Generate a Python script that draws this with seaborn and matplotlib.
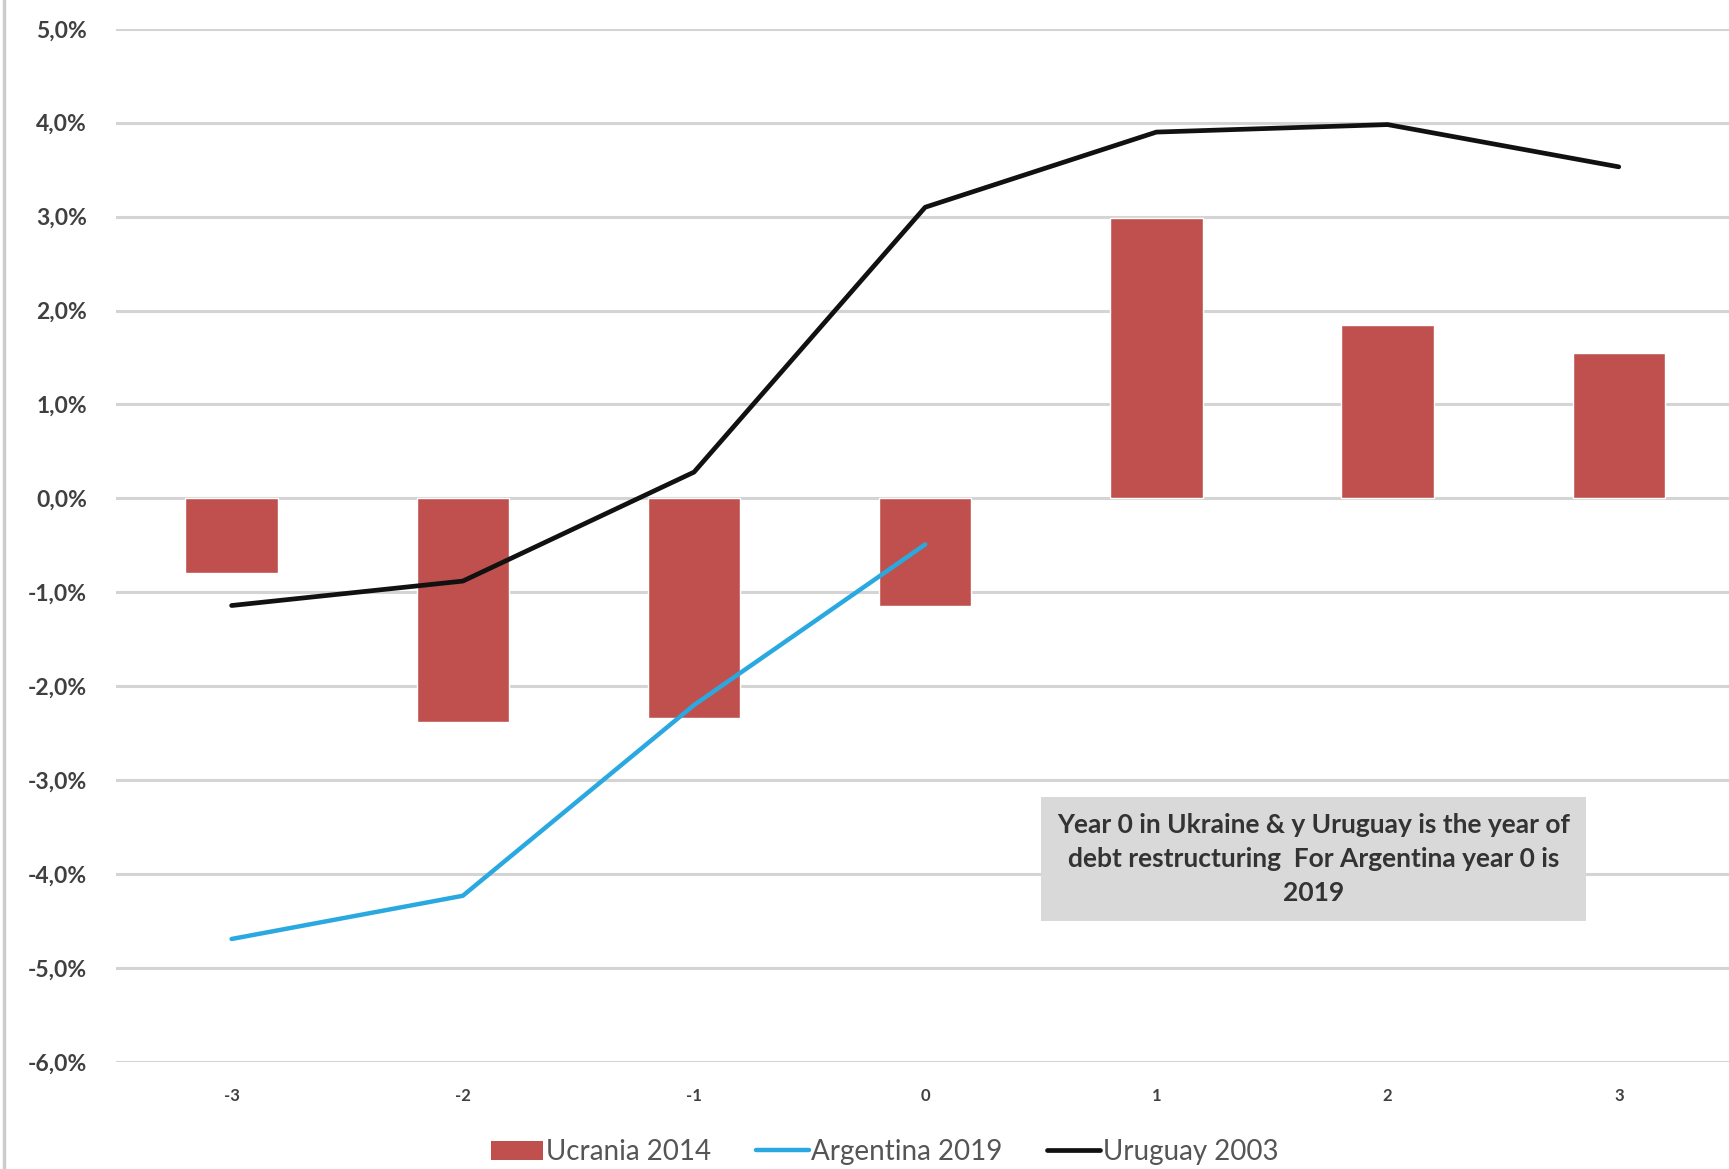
import matplotlib
matplotlib.use("Agg")
import matplotlib.pyplot as plt
import matplotlib.ticker as mticker
from matplotlib.patches import Patch
from matplotlib.lines import Line2D
import numpy as np
import pandas as pd
import seaborn as sns

# Years relative to the restructuring year
years = [-3, -2, -1, 0, 1, 2, 3]
# GDP growth, percent
ucrania_2014 = [-0.79, -2.38, -2.34, -1.14, 2.99, 1.85, 1.55]
argentina_years = [-3, -2, -1, 0]
argentina_2019 = [-4.69, -4.23, -2.20, -0.49]
uruguay_2003 = [-1.14, -0.88, 0.28, 3.10, 3.90, 3.98, 3.53]
y_ticks = [5, 4, 3, 2, 1, 0, -1, -2, -3, -4, -5, -6]

series_names = ["Ucrania 2014", "Argentina 2019", "Uruguay 2003"]
note = ("Year 0 in Ukraine & y Uruguay is the year of\n"
        "debt restructuring  For Argentina year 0 is\n2019")

RED = "#C0504D"
BLUE = "#2AA8E0"
BLACK = "#111111"
GRID = "#D4D4D4"
TXT = "#404040"

sns.set_theme(style="white")
plt.rcParams["font.family"] = ["Lato", "DejaVu Sans"]

fig = plt.figure(figsize=(17.29, 11.69), dpi=100)
ax = fig.add_axes([0.0671, 0.0915, 0.936, 0.8839])

bars = pd.DataFrame({"year": years, "value": ucrania_2014})
sns.barplot(data=bars, x="year", y="value", native_scale=True, color=RED,
            saturation=1, width=0.40, ax=ax, zorder=2)

arg = pd.DataFrame({"year": argentina_years, "value": argentina_2019})
sns.lineplot(data=arg, x="year", y="value", color=BLUE, linewidth=3.2,
             ax=ax, zorder=3)
uru = pd.DataFrame({"year": years, "value": uruguay_2003})
sns.lineplot(data=uru, x="year", y="value", color=BLACK, linewidth=3.4,
             ax=ax, zorder=4)

ax.set_xlim(-3.5, 3.5)
ax.set_ylim(-6, 5)
ax.set_yticks(y_ticks)
ax.yaxis.set_major_formatter(
    mticker.FuncFormatter(lambda v, _: f"{v:.1f}".replace(".", ",") + "%"))
ax.set_xticks(years)
ax.set_xticklabels([str(y) for y in years])
for v in y_ticks:
    ax.axhline(v, color=GRID, linewidth=2.2, zorder=1)
ax.grid(False)
for s in ax.spines.values():
    s.set_visible(False)
ax.tick_params(axis="y", length=0, pad=21, labelsize=16.5, labelcolor=TXT)
ax.tick_params(axis="x", length=0, pad=19, labelsize=12, labelcolor=TXT)
for lab in ax.get_yticklabels() + ax.get_xticklabels():
    lab.set_fontweight("bold")
ax.set_xlabel("")
ax.set_ylabel("")

# Note box
ax.text(1.68, -3.84, note, ha="center", va="center", fontsize=19,
        fontweight="bold", color="#333333", linespacing=1.5, zorder=6,
        bbox=dict(boxstyle="square,pad=0.6", facecolor="#D9D9D9",
                  edgecolor="none"))

handles = [Patch(facecolor=RED, edgecolor="none"),
           Line2D([0], [0], color=BLUE, linewidth=3.2),
           Line2D([0], [0], color=BLACK, linewidth=3.4)]
fig.legend(handles, series_names, loc="center", bbox_to_anchor=(0.5115, 0.0145),
           ncol=3, frameon=False, fontsize=20, labelcolor="#555555",
           handlelength=1.9, handletextpad=0.1, columnspacing=1.6)

# Chart frame edge on the left
fig.add_artist(Line2D([0.0025, 0.0025], [0, 1], color="#CCCCCC",
                      linewidth=2.5, transform=fig.transFigure))

fig.savefig("out.png", dpi=100)
